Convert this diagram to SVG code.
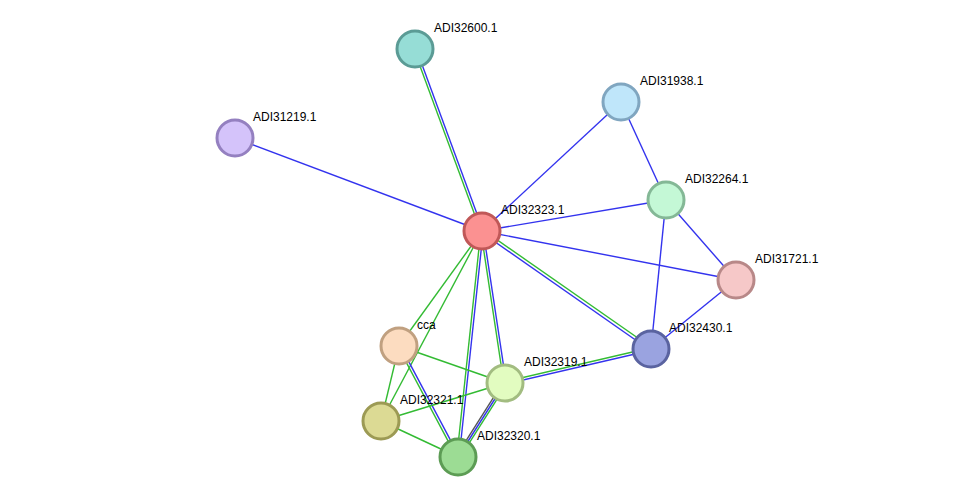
<svg xmlns="http://www.w3.org/2000/svg" width="976" height="502" viewBox="0 0 976 502">
<style>
.e line{stroke-width:1.4;fill:none}
.b{stroke:#3333ee}
.g{stroke:#33bb33}
.k{stroke:#555555}
.n circle{stroke-width:3}
.n text{font-family:"Liberation Sans",Arial,sans-serif;font-size:12px;fill:#000}
</style>
<rect width="976" height="502" fill="#fff"/>
<g id="edges" class="e">
<line class="g" x1="480.9" y1="231.4" x2="413.9" y2="49.4"/>
<line class="b" x1="483.1" y1="230.6" x2="416.1" y2="48.6"/>
<line class="b" x1="482" y1="231" x2="235" y2="138"/>
<line class="b" x1="482" y1="231" x2="621" y2="102"/>
<line class="b" x1="482" y1="231" x2="666" y2="200"/>
<line class="b" x1="482" y1="231" x2="736" y2="280"/>
<line class="g" x1="482.8" y1="229.8" x2="651.8" y2="347.8"/>
<line class="b" x1="481.2" y1="232.2" x2="650.2" y2="350.2"/>
<line class="g" x1="482" y1="231" x2="399" y2="346"/>
<line class="g" x1="482" y1="231" x2="381" y2="421"/>
<line class="g" x1="480.8" y1="230.8" x2="503.8" y2="382.8"/>
<line class="b" x1="483.2" y1="231.2" x2="506.2" y2="383.2"/>
<line class="g" x1="480.8" y1="231" x2="456.8" y2="457"/>
<line class="b" x1="483.2" y1="231" x2="459.2" y2="457"/>
<line class="b" x1="621" y1="102" x2="666" y2="200"/>
<line class="b" x1="666" y1="200" x2="736" y2="280"/>
<line class="b" x1="666" y1="200" x2="651" y2="349"/>
<line class="b" x1="736" y1="280" x2="651" y2="349"/>
<line class="g" x1="650.7" y1="347.8" x2="504.7" y2="381.8"/>
<line class="b" x1="651.3" y1="350.2" x2="505.3" y2="384.2"/>
<line class="g" x1="399" y1="346" x2="505" y2="383"/>
<line class="g" x1="399" y1="346" x2="381" y2="421"/>
<line class="g" x1="397.9" y1="346.6" x2="456.9" y2="457.6"/>
<line class="b" x1="400.1" y1="345.4" x2="459.1" y2="456.4"/>
<line class="g" x1="381" y1="421" x2="505" y2="383"/>
<line class="g" x1="381" y1="421" x2="458" y2="457"/>
<line class="k" x1="503.4" y1="381.8" x2="456.4" y2="455.8"/>
<line class="b" x1="505" y1="383" x2="458" y2="457"/>
<line class="g" x1="506.6" y1="384.2" x2="459.6" y2="458.2"/>
</g>
<g id="ADI32600.1" class="n"><circle cx="415" cy="49" r="18" fill="#96ddd6" stroke="#5b9b95"/><text x="434" y="32">ADI32600.1</text></g>
<g id="ADI31938.1" class="n"><circle cx="621" cy="102" r="18" fill="#bfe6fa" stroke="#80a6c0"/><text x="640" y="85">ADI31938.1</text></g>
<g id="ADI31219.1" class="n"><circle cx="235" cy="138" r="18" fill="#d4c3fa" stroke="#9480c0"/><text x="253" y="121">ADI31219.1</text></g>
<g id="ADI32264.1" class="n"><circle cx="666" cy="200" r="18" fill="#c4f8d6" stroke="#84b896"/><text x="685" y="183">ADI32264.1</text></g>
<g id="ADI32323.1" class="n"><circle cx="482" cy="231" r="18" fill="#fb9191" stroke="#c05858"/><text x="501" y="214">ADI32323.1</text></g>
<g id="ADI31721.1" class="n"><circle cx="736" cy="280" r="18" fill="#f6c8c8" stroke="#b88888"/><text x="755" y="263">ADI31721.1</text></g>
<g id="cca" class="n"><circle cx="399" cy="346" r="18" fill="#fcdcc0" stroke="#c0a080"/><text x="417" y="329">cca</text></g>
<g id="ADI32430.1" class="n"><circle cx="651" cy="349" r="18" fill="#9aa3e0" stroke="#5a63a0"/><text x="669" y="332">ADI32430.1</text></g>
<g id="ADI32319.1" class="n"><circle cx="505" cy="383" r="18" fill="#e2fcc0" stroke="#a2bc80"/><text x="524" y="366">ADI32319.1</text></g>
<g id="ADI32321.1" class="n"><circle cx="381" cy="421" r="18" fill="#dcda94" stroke="#9c9a54"/><text x="400" y="404">ADI32321.1</text></g>
<g id="ADI32320.1" class="n"><circle cx="458" cy="457" r="18" fill="#9cdc94" stroke="#5c9c54"/><text x="477" y="440">ADI32320.1</text></g>
</svg>
